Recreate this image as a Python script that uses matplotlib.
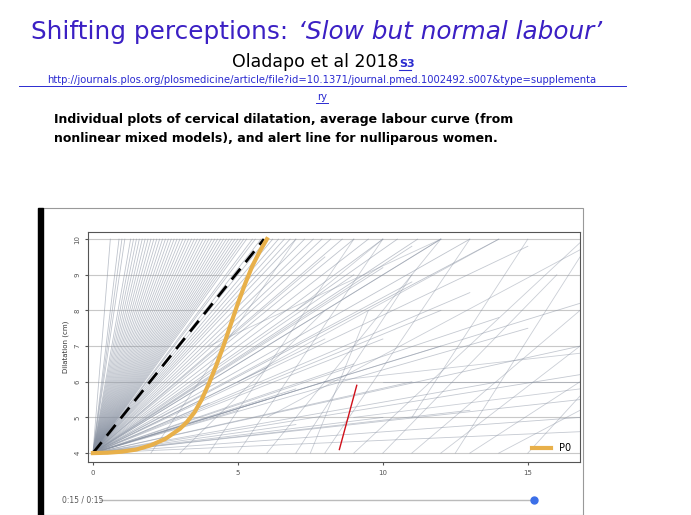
import matplotlib
matplotlib.use("Agg")
import matplotlib.pyplot as plt

# traces from 4 cm at time 0 reaching 10 cm at these times (h)
fan_end_times = [0.6, 0.9, 1.0, 1.1, 1.3, 1.4, 1.5, 1.6, 1.7, 1.8, 1.9, 2.0, 2.1, 2.2,
                 2.3, 2.4, 2.5, 2.6, 2.7, 2.8, 2.9, 3.0, 3.1, 3.2, 3.3, 3.4, 3.5, 3.6,
                 3.7, 3.8, 3.9, 4.0, 4.1, 4.2, 4.3, 4.4, 4.5, 4.6, 4.7, 4.8, 4.9, 5.0,
                 5.1, 5.2, 5.3, 5.5, 5.6, 5.8, 6.0, 6.2, 6.4, 6.6, 6.8, 7.0, 7.3, 7.6,
                 7.9, 8.2, 8.6, 9.0, 9.5, 10.0, 10.5, 11.2, 12.0, 13.0, 14.0]
# slow traces from 4 cm at time 0: (time, dilatation) at end
slow_ends = [(8, 9.5), (9, 9.0), (10, 9.2), (11, 8.8), (12, 8.0), (13, 8.5), (14, 7.8),
             (15, 7.5), (16.8, 8.2), (16.8, 7.0), (16.8, 6.2), (16.8, 5.5), (12, 7.0),
             (10, 7.2), (9, 6.5), (8, 6.0), (7, 5.8), (6, 5.5), (11, 6.0), (14, 6.0),
             (16.8, 5.0), (16.8, 4.6), (13, 5.2), (10, 5.0), (7, 4.8), (15, 9.8),
             (12, 10.0), (11, 9.8), (5, 5.2), (6, 6.4), (8, 7.2), (4, 5.4)]
# traces starting later: (t0, d0, t1, d1)
late_traces = [(4, 4, 9, 10), (5, 4, 10, 10), (6, 4, 12, 10), (7, 4, 11, 9), (8, 4, 13, 10),
               (9, 4, 16.8, 9.9), (10, 4, 16, 9.0), (11, 4, 16.8, 8.0), (12, 4, 16.8, 7.0),
               (13, 4, 16.8, 6.0), (14, 4, 16.8, 5.2), (7.5, 4, 9.5, 8.0), (3, 4, 8, 8),
               (2, 4, 7, 10), (6, 5, 16.8, 9.7), (5, 6, 14, 10), (4, 7, 12, 10),
               (8, 6, 16.8, 6.8), (10, 6, 16.8, 6.0), (9, 5, 16.8, 5.8), (7, 8, 10, 10),
               (11, 5, 15, 10), (12.5, 4, 16.8, 9.5), (15, 4, 16.8, 5.6)]
curve_t = [0, 0.5, 1, 1.5, 2, 2.5, 3, 3.25, 3.5, 3.75, 4, 4.25, 4.5, 4.75, 5, 5.25, 5.5, 5.75, 6]
curve_d = [4.0, 4.01, 4.04, 4.1, 4.22, 4.4, 4.68, 4.88, 5.14, 5.5, 5.95, 6.45, 7.0,
           7.6, 8.2, 8.75, 9.25, 9.65, 10.0]
alert_t = [0, 5.9]
alert_d = [4, 10]
red_t = [8.5, 9.1]
red_d = [4.1, 5.9]

purple = "#3b20c4"
link = "#2a2ad0"

fig = plt.figure(figsize=(6.91, 5.15), dpi=100)
W, H = 691, 515

def px(x, y):
    return x / W, 1 - y / H

fig.text(*px(296, 32), "Shifting perceptions: ", fontsize=17.8, color=purple, ha="right", va="center")
fig.text(*px(298, 32), "\u2018Slow but normal labour\u2019", fontsize=17.8, color=purple,
         style="italic", ha="left", va="center")
fig.text(*px(398, 62), "Oladapo et al 2018", fontsize=12.5, ha="right", va="center")
fig.text(*px(399, 64), "S3", fontsize=8, color=link, ha="left", va="center",
         weight="bold")
fig.add_artist(plt.Line2D([399 / W, 411 / W], [1 - 70 / H] * 2, color=link, lw=0.8))
url = "http://journals.plos.org/plosmedicine/article/file?id=10.1371/journal.pmed.1002492.s007&type=supplementa"
fig.text(*px(322, 80), url, fontsize=7.2, color=link, ha="center", va="center")
fig.add_artist(plt.Line2D([19 / W, 626 / W], [1 - 86 / H] * 2, color=link, lw=0.7))
fig.text(*px(322, 97), "ry", fontsize=7.2, color=link, ha="center", va="center")
fig.add_artist(plt.Line2D([316 / W, 328 / W], [1 - 103 / H] * 2, color=link, lw=0.7))
fig.text(*px(54, 129), "Individual plots of cervical dilatation, average labour curve (from\n"
         "nonlinear mixed models), and alert line for nulliparous women.",
         fontsize=9.0, weight="bold", ha="left", va="center", linespacing=1.6)

# video frame
fig.add_artist(plt.Rectangle(px(38, 515), 545 / W, 307 / H, fill=False, ec="#999999", lw=0.8))
fig.add_artist(plt.Rectangle(px(38, 515), 5 / W, 307 / H, color="black"))

ax = fig.add_axes([88 / W, 53 / H, 492 / W, 230 / H])
for t in fan_end_times:
    ax.plot([0, t], [4, 10], color="#8a93a3", lw=0.6, alpha=0.55)
for t, d in slow_ends:
    ax.plot([0, t], [4, d], color="#8a93a3", lw=0.6, alpha=0.5)
for t0, d0, t1, d1 in late_traces:
    ax.plot([t0, t1], [d0, d1], color="#8a93a3", lw=0.6, alpha=0.45)
for d in range(4, 11):
    ax.axhline(d, color="#c8c8c8", lw=0.8, zorder=0)
ax.plot(alert_t, alert_d, color="black", lw=2, ls=(0, (5, 3)))
ax.plot(curve_t, curve_d, color="#e8b04a", lw=3, label="P0")
ax.plot(red_t, red_d, color="#d0101a", lw=1)
ax.set_xlim(-0.17, 16.8)
ax.set_ylim(3.75, 10.2)
ax.set_xticks([0, 5, 10, 15])
ax.set_yticks(range(4, 11))
ax.tick_params(labelsize=5, colors="#555555", length=2)
for lab in ax.get_yticklabels():
    lab.set_rotation(90)
    lab.set_va("center")
ax.set_ylabel("Dilatation (cm)", fontsize=5, color="#333333")
for s in ax.spines.values():
    s.set_color("#555555")
    s.set_linewidth(0.8)
leg = ax.legend(loc="lower right", frameon=False, fontsize=7, handlelength=2)

# player controls
fig.text(*px(62, 500), "0:15 / 0:15", fontsize=5.5, color="#555555", va="center")
fig.add_artist(plt.Line2D([100 / W, 534 / W], [1 - 500 / H] * 2, color="#bbbbbb", lw=1))
fig.add_artist(plt.Line2D([534 / W], [1 - 500 / H], marker="o", color="#3b6fe8", ms=5))

fig.savefig("out.png", dpi=100)
